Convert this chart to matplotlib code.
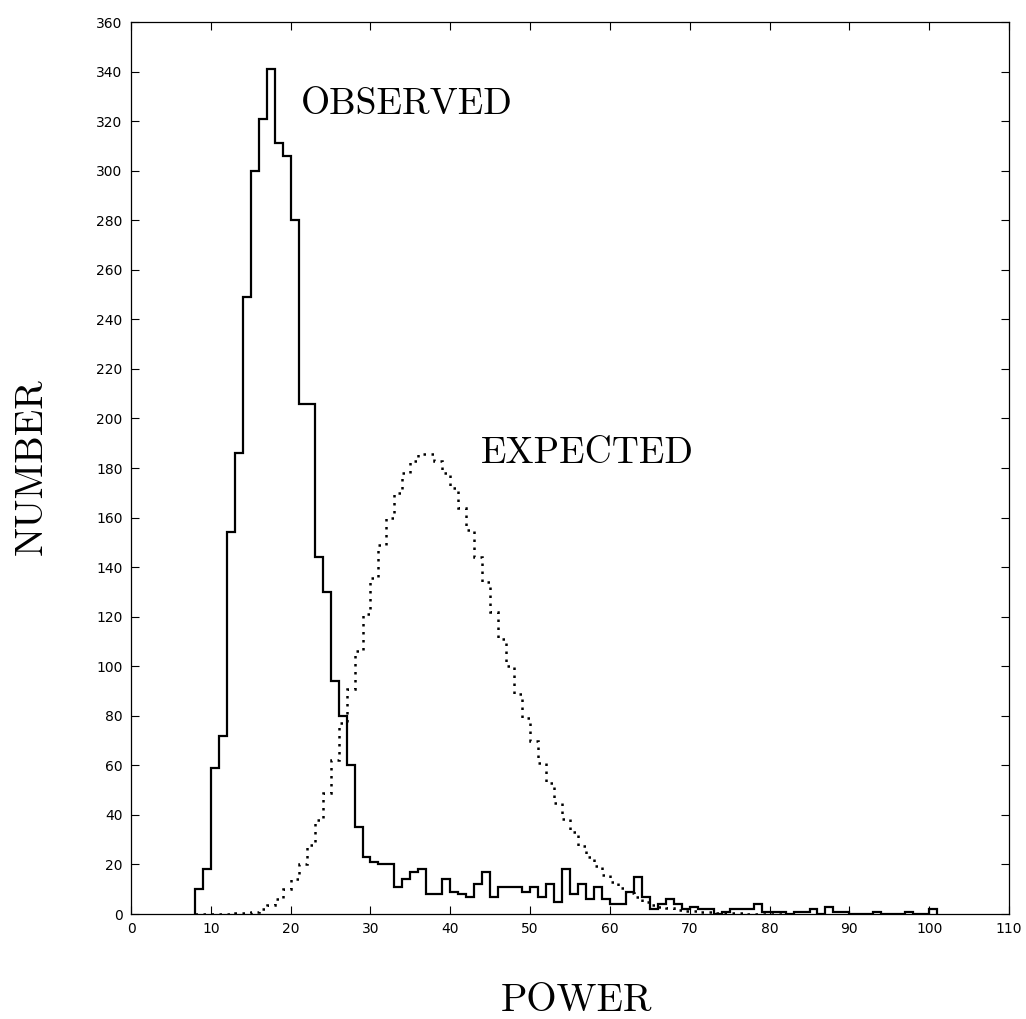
import numpy as np
import matplotlib
matplotlib.use("Agg")
import matplotlib.pyplot as plt

# observed histogram, bins of width 1 starting at power = 8
obs_start = 8
observed = [10, 18, 59, 72, 154, 186, 249, 300, 321, 341,
            311, 306, 280, 206, 206, 144, 130, 94, 80, 60,
            35, 23, 21, 20, 20, 11, 14, 17, 18, 8,
            8, 14, 9, 8, 7, 12, 17, 7, 11, 11,
            11, 9, 11, 7, 12, 5, 18, 8, 12, 6,
            11, 6, 4, 4, 9, 15, 7, 2, 4, 6,
            4, 2, 3, 2, 2, 0, 1, 2, 2, 2,
            4, 1, 1, 1, 0, 1, 1, 2, 0, 3,
            1, 1, 0, 0, 0, 1, 0, 0, 0, 1,
            0, 0, 2]

# expected histogram, same binning
exp_start = 8
expected = [0.0, 0.0, 0.05, 0.1, 0.15, 0.3, 0.5, 1.0, 2.2, 3.5,
            6.2, 10, 14, 20, 28, 38, 49, 62, 77, 91,
            106, 121, 135.5, 149, 160, 170, 178, 183, 185.5, 185.5,
            183, 178, 172, 164, 155, 144, 134, 122, 111, 100,
            89, 79, 70, 61, 53, 45, 38.5, 33, 27.5, 23,
            19.2, 15.7, 13, 10.6, 8.6, 6.7, 5.0, 3.8, 3.0, 2.3,
            1.8, 1.4, 1.1, 0.9, 0.7, 0.5, 0.4, 0.3, 0.25, 0.2,
            0.15, 0.1, 0.1, 0.05]

obs_edges = np.arange(obs_start, obs_start + len(observed) + 1)
exp_edges = np.arange(exp_start, exp_start + len(expected) + 1)

fig = plt.figure(figsize=(10.26, 10.19), dpi=100)
ax = fig.add_axes([0.1277, 0.1030, 0.8558, 0.8754])

ax.stairs(observed, obs_edges, color='black', lw=1.6, baseline=0)
ax.stairs(expected, exp_edges, color='black', lw=1.8,
          linestyle=(0, (1, 2.2)), baseline=None)

ax.set_xlim(0, 110)
ax.set_ylim(0, 360)
ax.set_xticks(np.arange(0, 111, 10))
ax.set_yticks(np.arange(0, 361, 20))
ax.tick_params(direction='in', length=6, width=0.8, top=True, right=True,
               labelsize=10, pad=6)
for s in ax.spines.values():
    s.set_linewidth(0.9)

serif = 'cmr10'
ax.text(21.3, 323, 'OBSERVED', family=serif, fontsize=27)
ax.text(43.8, 182, 'EXPECTED', family=serif, fontsize=27)
fig.text(0.031, 0.542, 'NUMBER', family=serif, fontsize=28,
         rotation=90, ha='center', va='center')
fig.text(0.562, 0.018, 'POWER', family=serif, fontsize=28,
         ha='center', va='center')

fig.savefig('out.png', dpi=100)
